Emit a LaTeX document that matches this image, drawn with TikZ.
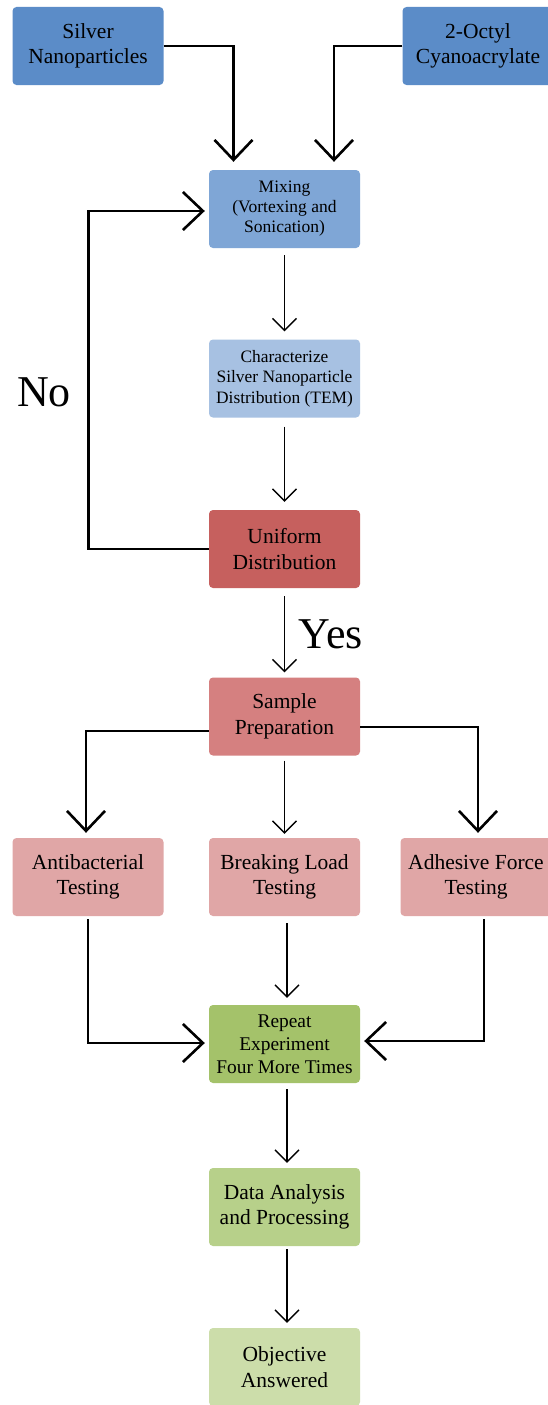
\documentclass[tikz,border=0pt]{standalone}
\usepackage{fontspec}
\setmainfont{Liberation Serif}
\usetikzlibrary{arrows.meta,calc}
\definecolor{cInput}{HTML}{5B8CC8}
\definecolor{cMix}{HTML}{7FA6D6}
\definecolor{cChar}{HTML}{A7C1E2}
\definecolor{cUnif}{HTML}{C6605E}
\definecolor{cSamp}{HTML}{D58080}
\definecolor{cTest}{HTML}{E0A6A6}
\definecolor{cRep}{HTML}{A4C26A}
\definecolor{cData}{HTML}{B7D08A}
\definecolor{cObj}{HTML}{CCDDAA}
\begin{document}
\begin{tikzpicture}[x=1pt,y=-1pt,
  box/.style={rounded corners=4pt, minimum width=151pt, minimum height=78pt, align=center, inner sep=0pt, text=black},
  big/.style={font=\fontsize{21.5}{25.5}\selectfont},
  small/.style={font=\fontsize{17.5}{20}\selectfont},
  thk/.style={line width=2.6pt, -{Straight Barb[length=20pt,width=38pt]}},
  thn/.style={line width=1.3pt, -{Straight Barb[length=12pt,width=24pt]}},
  lbl/.style={font=\fontsize{44}{48}\selectfont, inner sep=0pt}]
\useasboundingbox (0,0) rectangle (548,1405);
\clip (0,0) rectangle (548,1405);
\fill[white] (0,0) rectangle (548,1405);

\node[box,big,fill=cInput] (silver) at (88,46) {Silver\\Nanoparticles};
\node[box,big,fill=cInput] (octyl) at (478,46) {2-Octyl\\Cyanoacrylate};
\node[box,small,fill=cMix] (mix) at (284.5,209) {Mixing\\(Vortexing and\\Sonication)};
\node[box,font=\fontsize{17.4}{20.5}\selectfont,fill=cChar] (char) at (284.5,378.5) {Characterize\\Silver Nanoparticle\\Distribution (TEM)};
\node[box,big,fill=cUnif] (unif) at (284.5,549) {Uniform\\Distribution};
\node[box,big,fill=cSamp] (samp) at (284.5,716.5) {Sample\\Preparation};
\node[box,big,fill=cTest] (anti) at (88,877) {Antibacterial\\Testing};
\node[box,big,fill=cTest] (brk) at (284.5,877) {Breaking Load\\Testing};
\node[box,big,fill=cTest] (adh) at (476,877) {Adhesive Force\\Testing};
\node[box,font=\fontsize{19.4}{23}\selectfont,fill=cRep] (rep) at (284.5,1044) {Repeat\\Experiment\\Four More Times};
\node[box,big,fill=cData] (data) at (284.5,1207) {Data Analysis\\and Processing};
\node[box,big,fill=cObj] (obj) at (284.5,1367) {Objective\\Answered};

\node[lbl] (no) at (44,392) {No};
\node[lbl] (yes) at (331,634) {Yes};

% inputs into mixing
\draw[thk, shorten >=8pt] (silver.east) -| ($(mix.north)+(-51,0)$);
\draw[thk, shorten >=8pt] (octyl.west) -| ($(mix.north)+(49.5,0)$);
% loop back (No)
\draw[thk, shorten >=4pt] (unif.west) -- ++(-120.5,0) |- ($(mix.west)+(0,2)$);
% main chain
\draw[thn, shorten <=7pt, shorten >=8pt] (mix.south) -- (char.north);
\draw[thn, shorten <=9pt, shorten >=8pt] (char.south) -- (unif.north);
\draw[thn, shorten <=8pt, shorten >=5pt] (unif.south) -- (samp.north);
% sample to tests
\draw[thk, shorten >=5pt] ($(samp.west)+(0,14.5)$) -| ($(anti.north)+(-2,0)$);
\draw[thk, shorten >=5pt] ($(samp.east)+(0,10.5)$) -| ($(adh.north)+(2,0)$);
\draw[thn, shorten <=5pt, shorten >=4pt] (samp.south) -- (brk.north);
% tests to repeat
\draw[thk, shorten >=4pt] ($(anti.south)+(0,3)$) |- ($(rep.west)+(0,-1)$);
\draw[thk, shorten >=4pt] ($(adh.south)+(8,3)$) |- ($(rep.east)+(0,-3)$);
\draw[thn, shorten <=7pt, shorten >=7pt] ($(brk.south)+(2.5,0)$) -- ($(rep.north)+(2.5,0)$);
% final chain
\draw[thn, shorten <=6pt, shorten >=5pt] ($(rep.south)+(2.5,0)$) -- ($(data.north)+(2.5,0)$);
\draw[thn, shorten <=3pt, shorten >=5pt] ($(data.south)+(2.5,0)$) -- ($(obj.north)+(2.5,0)$);
\end{tikzpicture}
\end{document}
